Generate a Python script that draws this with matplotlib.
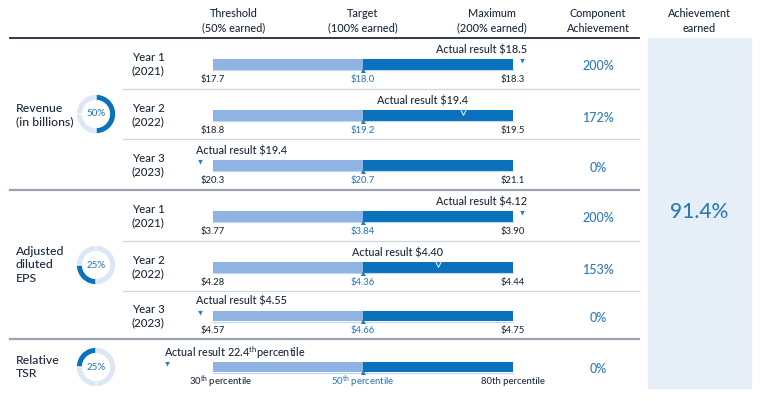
import numpy as np
import matplotlib
matplotlib.use("Agg")
import matplotlib.pyplot as plt

plt.rcParams['font.family'] = ['Lato', 'DejaVu Sans']
plt.rcParams['font.weight'] = 'medium'
plt.rcParams['mathtext.default'] = 'regular'

# data
sections = ["Revenue\n(in billions)", "Adjusted\ndiluted\nEPS", "Relative\nTSR"]
weights = [50, 25, 25]
years = ["Year 1\n(2021)", "Year 2\n(2022)", "Year 3\n(2023)"]

rev_threshold = [17.7, 18.8, 20.3]
rev_target = [18.0, 19.2, 20.7]
rev_maximum = [18.3, 19.5, 21.1]
rev_actual = [18.5, 19.4, 19.4]
rev_achieved = [200, 172, 0]

eps_threshold = [3.77, 4.28, 4.57]
eps_target = [3.84, 4.36, 4.66]
eps_maximum = [3.90, 4.44, 4.75]
eps_actual = [4.12, 4.40, 4.55]
eps_achieved = [200, 153, 0]

tsr_threshold = 30
tsr_target = 50
tsr_maximum = 80
tsr_actual = 22.4
tsr_achieved = 0

total_earned = 91.4

headers = ["Threshold\n(50% earned)", "Target\n(100% earned)", "Maximum\n(200% earned)",
           "Component\nAchievement"]

# colours
DARK = "#1d2a3a"
BLUE = "#0a72bd"
LIGHT = "#8fb4e3"
TXTBLUE = "#2c7bb8"
RING = "#dce6f4"
PANEL = "#e6eef8"

W, H = 760, 401
fig = plt.figure(figsize=(W / 100, H / 100), dpi=100)
ax = fig.add_axes([0, 0, 1, 1])
ax.set_xlim(0, W)
ax.set_ylim(H, 0)
ax.axis('off')

bar_x0, bar_len = 213, 150  # one unit = threshold->target


def to_units(v, thr, tgt, mx, nudge):
    if v < thr:
        return -nudge
    if v > mx:
        return 2 + 0.06
    return np.interp(v, [thr, tgt, mx], [0, 1, 2])


def draw_row(yc, thr, tgt, mx, act, fmt, ach, year=None, nudge=0.09, label_fmt=None):
    # bars: threshold -> target (light), target -> max (dark)
    ax.barh(yc, bar_len, left=bar_x0, height=10.5, color=LIGHT, zorder=2)
    ax.barh(yc, bar_len, left=bar_x0 + bar_len, height=10.5, color=BLUE, zorder=2)
    ax.plot([bar_x0, bar_x0 + 2 * bar_len], [yc + 5.6, yc + 5.6], color="#bcd7f0", lw=0.8, zorder=2)
    ax.plot(bar_x0 + bar_len, yc + 5.2, marker='^', ms=3.6, color=TXTBLUE, mew=0, zorder=3)

    if label_fmt is None:
        ax.text(bar_x0, yc + 15, fmt % thr, ha='center', va='center', fontsize=6.8, color=DARK)
        ax.text(bar_x0 + bar_len, yc + 15, fmt % tgt, ha='center', va='center', fontsize=6.8, color=TXTBLUE)
        ax.text(bar_x0 + 2 * bar_len, yc + 15, fmt % mx, ha='center', va='center', fontsize=6.8, color=DARK)
    else:
        ax.text(bar_x0 + 8, yc + 15, label_fmt % thr, ha='center', va='center', fontsize=6.8, color=DARK)
        ax.text(bar_x0 + bar_len, yc + 15, label_fmt % tgt, ha='center', va='center', fontsize=6.8, color=TXTBLUE)
        ax.text(bar_x0 + 2 * bar_len, yc + 15, "%dth percentile" % mx, ha='center', va='center',
                fontsize=6.8, color=DARK)

    u = to_units(act, thr, tgt, mx, nudge)
    mx_px = bar_x0 + u * bar_len
    ax.plot(mx_px, yc - 3.5, marker='v', ms=5, color=TXTBLUE, mec='white', mew=0.6, zorder=4)
    if label_fmt is None:
        txt = "Actual result " + (fmt % act)
    else:
        txt = "Actual result " + (label_fmt % act).replace(" ", "")
    if u < 0:
        ax.text(mx_px - 3, yc - 14.5, txt, ha='left', va='center', fontsize=7.8, color=DARK)
    else:
        ax.text(mx_px + 5, yc - 14.5, txt, ha='right', va='center', fontsize=7.8, color=DARK)

    ax.text(598, yc + 2, "%d%%" % ach, ha='center', va='center', fontsize=9, color=TXTBLUE)
    if year is not None:
        ax.text(148, yc, year, ha='center', va='center', fontsize=8.3, color=DARK, linespacing=1.25)


def donut(i, yc):
    r = 20
    dax = fig.add_axes([(96 - r) / W, (H - yc - r) / H, 2 * r / W, 2 * r / H])
    start = 90 - 3.6 * sum(weights[:i])
    vals = weights[i:] + weights[:i]
    cols = [BLUE] + [RING] * (len(vals) - 1)
    dax.pie(vals, colors=cols, startangle=start, counterclock=False, radius=1,
            wedgeprops=dict(width=0.3, edgecolor='white', linewidth=0.6))
    dax.set_xlim(-1.02, 1.02)
    dax.set_ylim(-1.02, 1.02)
    dax.set_aspect('equal')
    dax.text(0, 0, "%d%%" % weights[i], ha='center', va='center', fontsize=7, color=TXTBLUE)


# header
for x, h in zip([234, 363, 492, 598], headers):
    ax.text(x, 21, h, ha='center', va='center', fontsize=7.8, color=DARK, linespacing=1.35)
ax.text(699, 21, "Achievement\nearned", ha='center', va='center', fontsize=7.8, color=DARK, linespacing=1.35)

# achievement panel
ax.add_patch(plt.Rectangle((648, 38), 103, 350, color=PANEL, zorder=0))
ax.text(699, 212, "%.1f%%" % total_earned, ha='center', va='center', fontsize=15, color=TXTBLUE)

# grid lines
ax.plot([10, 639], [38, 38], color=DARK, lw=1.3)
for y in [89, 139, 241, 291]:
    ax.plot([123, 639], [y, y], color="#d3d7dd", lw=1)
for y in [190, 339]:
    ax.plot([10, 639], [y, y], color="#9aa3ad", lw=1.6)

# revenue
row_tops = [38, 89, 139]
for k in range(3):
    draw_row(row_tops[k] + 26.5, rev_threshold[k], rev_target[k], rev_maximum[k], rev_actual[k],
             "$%.1f", rev_achieved[k], years[k])
ax.text(16, 115, sections[0], ha='left', va='center', fontsize=8.8, color=DARK, linespacing=1.3)
donut(0, 114)

# eps
row_tops = [190, 241, 291]
for k in range(3):
    draw_row(row_tops[k] + 26.5 - (1.5 if k == 2 else 0), eps_threshold[k], eps_target[k],
             eps_maximum[k], eps_actual[k], "$%.2f", eps_achieved[k], years[k])
ax.text(16, 265, sections[1], ha='left', va='center', fontsize=8.8, color=DARK, linespacing=1.3)
donut(1, 265)

# tsr
draw_row(367, tsr_threshold, tsr_target, tsr_maximum, tsr_actual, "%d", tsr_achieved,
         nudge=0.31, label_fmt="%g$^{th}$ percentile")
ax.text(16, 367, sections[2], ha='left', va='center', fontsize=8.8, color=DARK, linespacing=1.3)
donut(2, 367)

fig.savefig("out.png", dpi=100)
